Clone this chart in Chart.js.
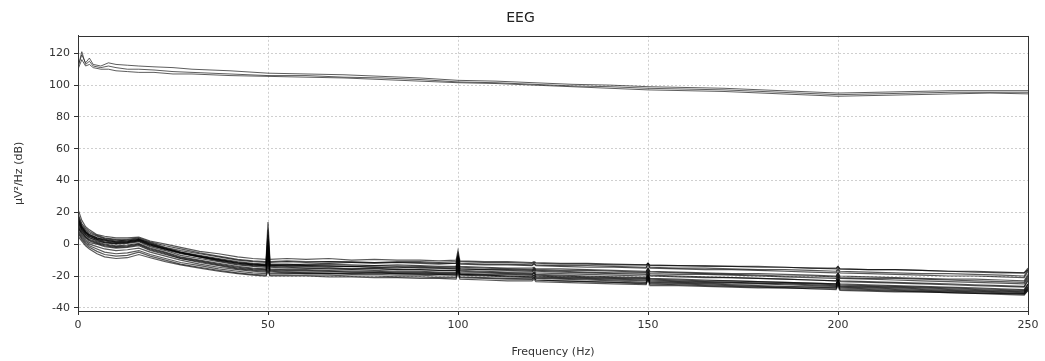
<!DOCTYPE html>
<html>
<head>
<meta charset="utf-8">
<script src="https://cdn.jsdelivr.net/npm/chart.js@4.4.1/dist/chart.umd.min.js"></script>
<style>
  body { margin: 0; background: #fff; }
  #wrap { width: 1045px; height: 361px; }
</style>
</head>
<body>
<div id="wrap"><canvas id="psd-chart" width="1045" height="361"></canvas></div>
<script>
// frequencies (Hz) for the upper group and lower group
const freqsUp = [0, 1, 2, 3, 4, 6, 8, 10, 13, 16, 20, 25, 30, 40, 50, 60, 70, 80, 90, 100, 110, 120, 130, 140, 150, 160, 170, 180, 190, 200, 210, 220, 230, 240, 250];
const freqsLow = [0, 1, 2, 3, 5, 7, 10, 13, 16, 19, 23, 27, 32, 37, 42, 46, 49.5, 50, 50.5, 55, 60, 66, 72, 78, 84, 90, 95, 99.5, 100, 100.5, 107, 113, 119.5, 120, 120.5, 127, 134, 141, 149.5, 150, 150.5, 158, 165, 172, 179, 186, 193, 199.5, 200, 200.5, 208, 215, 222, 229, 236, 243, 249, 250];

const yTicks = [-40, -20, 0, 20, 40, 60, 80, 100, 120];
const xTicks = [0, 50, 100, 150, 200, 250];

// PSD in dB, upper channels
const upCh1 = [112, 119, 114, 117, 113, 112, 114, 113, 112.5, 112, 111.5, 111, 110, 109, 107.5, 107, 106.5, 105.5, 104.5, 103, 102.5, 101.5, 100.5, 100, 99, 98.5, 98, 97, 96, 95, 95.5, 96, 96.5, 96.5, 96.5];
const upCh2 = [110, 116, 112, 113, 111, 110, 110, 109, 108.5, 108, 108, 107, 107, 106, 105.5, 105, 104.5, 103.5, 102.5, 101.5, 101, 100, 99, 98, 97, 96.5, 96, 95, 94, 93, 93.5, 94, 94.5, 95, 94.5];
const upCh3 = [111, 121, 113, 115, 112, 111, 112, 111, 110, 110, 109.5, 108.5, 108, 107, 106, 106, 105, 104.5, 103.5, 102, 101.5, 100.5, 99.5, 99, 98, 97.5, 97, 96, 95, 94, 94.5, 95, 95.5, 95.5, 95.5];

// PSD in dB, lower channels
const lowCh01 = [22, 15, 11, 9, 6, 5, 4, 4, 4.5, 2, 0, -2, -4.5, -6, -8, -9, -9.5, 14, -9.5, -9, -9.5, -9, -10, -9.5, -10, -10, -10.5, -10, -4, -10.5, -11, -11, -11.5, -11, -11.5, -12, -12, -12.5, -13, -12, -13, -13.5, -13.5, -14, -14, -14.5, -15, -15, -14, -15.5, -16, -16, -16.5, -17, -17.5, -18, -18, -15];
const lowCh02 = [18, 12, 9, 7, 5, 3.5, 2.5, 2, 3, 1, -2, -4, -6, -8, -10, -11, -11.5, 6, -11.5, -11, -11.5, -11, -11.5, -12, -11.5, -12, -12.5, -12, -6, -12.5, -13, -13, -13.5, -12.5, -13.5, -14, -14.5, -14.5, -15, -13, -15, -15.5, -16, -16, -16.5, -17, -17.5, -18, -16, -18, -18.5, -19, -19.5, -20, -20, -20.5, -21, -17];
const lowCh03 = [17, 11, 8, 6, 4, 3, 2, 2.5, 3.5, 0.5, -2.5, -5, -7, -9, -11, -12, -12.5, 2, -12.5, -12.5, -13, -12.5, -13, -13.5, -13, -13.5, -14, -14, -8, -14, -14.5, -15, -15, -14.5, -15.5, -15.5, -16, -16.5, -17, -15, -17, -17.5, -18, -18.5, -18.5, -19, -19.5, -20, -18, -20, -20.5, -21, -21.5, -22, -22, -22.5, -23, -19];
const lowCh04 = [15, 10, 7, 5, 3, 2, 1, 1.5, 2.5, -0.5, -3.5, -6, -8, -10, -12, -13, -13.5, 0, -13.5, -14, -14, -14.5, -14, -14.5, -15, -14.5, -15, -15, -9, -15.5, -16, -16, -16.5, -15.5, -16.5, -17, -17.5, -18, -18, -16, -18.5, -19, -19, -19.5, -20, -20.5, -21, -21.5, -19, -21.5, -22, -22.5, -23, -23.5, -24, -24.5, -25, -21];
const lowCh05 = [13, 9, 6, 4, 2.5, 1, 0, 0.5, 1.5, -1.5, -4, -7, -9, -11, -13, -14, -14.5, -3, -14.5, -15, -15, -15.5, -15.5, -15, -16, -16, -16.5, -16.5, -11, -16.5, -17, -17.5, -17.5, -16.5, -18, -18.5, -19, -19.5, -20, -17, -20, -20.5, -21, -21, -21.5, -22, -22.5, -23, -20, -23.5, -24, -24.5, -25, -25.5, -26, -26.5, -27, -23];
const lowCh06 = [12, 8, 5, 3, 1.5, 0, -1, -0.5, 0.5, -2.5, -5, -8, -10, -12, -14, -15, -15.5, -6, -15.5, -16, -16, -16.5, -16, -16.5, -17, -17, -17.5, -17.5, -13, -18, -18, -18.5, -19, -18, -19.5, -20, -20.5, -21, -21.5, -19, -22, -22.5, -23, -23, -23.5, -24, -24.5, -25, -22, -25.5, -26, -26.5, -27, -27.5, -28, -28.5, -29, -25];
const lowCh07 = [10, 7, 4, 2, 0.5, -1, -2, -1.5, -0.5, -3.5, -6, -9, -11, -13, -15, -16, -16.5, -9, -16.5, -17, -17, -17, -17.5, -17.5, -18, -18, -18.5, -18.5, -14, -19, -19.5, -20, -20.5, -19.5, -21, -21.5, -22, -22.5, -23, -20, -23.5, -24, -24.5, -25, -25, -25.5, -26, -26.5, -23, -27, -27.5, -28, -28.5, -29, -29.5, -30, -30.5, -27];
const lowCh08 = [11, 6, 3, 1, 0, -1.5, -2.5, -2, -1, -4, -6.5, -9, -11.5, -13.5, -15.5, -16.5, -17, -11, -17, -17.5, -18, -18, -18.5, -18, -18.5, -19, -19, -19.5, -15, -19.5, -20, -20.5, -21, -20.5, -21.5, -22, -22.5, -23, -24, -21, -24, -24.5, -25, -25.5, -26, -26.5, -27, -27, -24, -27.5, -28, -28.5, -29, -29.5, -30, -30.5, -31, -28];
const lowCh09 = [14, 9, 6, 4, 2, 1, 0.5, 1, 2, -1, -3, -5.5, -8, -10.5, -12.5, -13.5, -14, -4, -14, -14.5, -15, -15, -15.5, -15.5, -16, -16, -16.5, -16.5, -12, -17, -17.5, -18, -18.5, -17.5, -19, -19.5, -20, -20.5, -21, -18, -21.5, -22, -22.5, -23, -23.5, -24, -24.5, -25, -22, -25, -25.5, -26, -26.5, -27, -27.5, -28, -28.5, -25];
const lowCh10 = [16, 11, 8, 6, 4, 2.5, 1.5, 1.5, 2.5, 0, -2.5, -5, -7.5, -9.5, -11.5, -12.5, -13, -1, -13, -13.5, -13.5, -14, -14, -14.5, -14.5, -15, -15, -15.5, -10, -15.5, -16, -16.5, -17, -16, -17, -17.5, -18, -18.5, -19, -17, -19.5, -20, -20.5, -21, -21.5, -22, -22.5, -23, -20, -23, -23.5, -24, -24.5, -25, -25.5, -26, -26.5, -22];
const lowCh11 = [8, 4, 1, -1, -3, -5, -6, -5.5, -4, -6.5, -9, -11.5, -13.5, -15.5, -17, -18, -18.5, -14, -18.5, -18.5, -18, -18.5, -18, -18, -18.5, -18.5, -19, -19, -16, -19, -19.5, -20, -20, -19.5, -20.5, -21, -21.5, -22, -22.5, -20, -23, -23.5, -24, -24, -24.5, -25, -25.5, -26, -23, -26.5, -27, -27.5, -28, -28.5, -29, -29.5, -30, -27];
const lowCh12 = [5, 2, -1, -3, -6, -8, -9, -8.5, -6.5, -8.5, -11, -13, -15, -17, -18.5, -19.5, -20, -17, -20, -20, -20, -20.5, -20.5, -21, -21, -21.5, -21.5, -22, -18, -22, -22.5, -23, -23, -22, -23.5, -24, -24.5, -25, -25.5, -22, -26, -26, -26.5, -27, -27.5, -27.5, -28, -28.5, -26, -29, -29.5, -30, -30, -30.5, -31, -31.5, -32, -29];
const lowCh13 = [7, 3, 0, -2, -4.5, -6.5, -7.5, -7, -5, -7.5, -10, -12.5, -14.5, -16.5, -18, -19, -19.5, -16, -19.5, -19.5, -19.5, -19.5, -20, -20, -20.5, -20.5, -21, -21, -17, -21, -21.5, -22, -22, -21, -22.5, -23, -23.5, -24, -24.5, -21, -25, -25, -25.5, -26, -26.5, -27, -27, -27.5, -25, -28, -28.5, -29, -29.5, -30, -30.5, -31, -31, -28];
const lowCh14 = [14, 10, 7, 5, 3, 1.5, 0.5, 1, 2, -0.5, -3, -5.5, -8, -10, -12, -13, -13.5, -5, -13.5, -13, -12.5, -12, -11.5, -11.5, -11, -11, -11.5, -11, -8, -11, -11.5, -11.5, -12, -11.5, -12, -12.5, -12.5, -13, -13, -12, -13.5, -13.5, -14, -14, -14.5, -14.5, -15, -15.5, -14, -15.5, -16, -16, -16.5, -17, -17, -17.5, -18, -16];
const lowCh15 = [16, 10.5, 7.5, 5.5, 3.5, 2.5, 1.5, 2, 3, 0, -3, -5.5, -7.5, -9.5, -11.5, -12.5, -13, 3, -13, -13, -13.5, -13.5, -14, -13.5, -14, -14, -14.5, -14.5, -9, -14.5, -15, -15.5, -16, -15, -16, -16.5, -16.5, -17, -17.5, -15, -17.5, -18, -18.5, -19, -19.5, -20, -20, -20.5, -18, -21, -21.5, -21.5, -22, -22.5, -23, -23.5, -24, -20];
const lowCh16 = [11, 7.5, 4.5, 2.5, 1, -0.5, -1.5, -1, 0, -3, -5.5, -8.5, -10.5, -12.5, -14.5, -15.5, -16, -7, -16, -16.5, -16.5, -17, -17, -17, -17.5, -17.5, -18, -18, -13, -18.5, -19, -19, -19.5, -18, -20, -20.5, -21, -21.5, -22, -19, -22.5, -23, -23.5, -24, -24.5, -24.5, -25, -25.5, -22, -26, -26.5, -27, -27.5, -28, -28.5, -29, -29.5, -26];
const lowCh17 = [9, 5, 2, 0, -1.5, -3, -4, -3.5, -2.5, -5, -7.5, -10, -12.5, -14.5, -16, -17, -17.5, -12, -17.5, -18, -18.5, -18.5, -19, -19, -19.5, -19.5, -20, -20, -16, -20.5, -21, -21.5, -22, -21, -22.5, -23, -23.5, -24, -25, -22, -25, -25.5, -26, -26.5, -27, -27.5, -28, -28, -25, -28.5, -29, -29.5, -30, -30.5, -31, -31, -31.5, -29];
const lowCh18 = [19, 13, 10, 8, 5.5, 4, 3, 3, 4, 1.5, -1, -3, -5.5, -7.5, -9.5, -10.5, -11, 9, -11, -10.5, -11, -11, -11, -11.5, -11.5, -11.5, -12, -12, -7, -12, -12.5, -12.5, -13, -12, -13, -13.5, -13.5, -14, -14.5, -12, -14.5, -15, -15, -15.5, -16, -16, -16.5, -17, -15, -17, -17.5, -18, -18.5, -18.5, -19, -19.5, -20, -16];

const upChannels = [upCh1, upCh2, upCh3];
const lowChannels = [lowCh01, lowCh02, lowCh03, lowCh04, lowCh05, lowCh06, lowCh07, lowCh08, lowCh09, lowCh10, lowCh11, lowCh12, lowCh13, lowCh14, lowCh15, lowCh16, lowCh17, lowCh18];

function toPoints(freqs, vals) {
  return vals.map((v, i) => ({ x: freqs[i], y: v }));
}

let datasets = [];
for (let ch of upChannels) {
  datasets.push({ data: toPoints(freqsUp, ch), borderColor: "rgba(40,40,40,0.75)", borderWidth: 1, pointRadius: 0, tension: 0 });
}
for (let ch of lowChannels) {
  datasets.push({ data: toPoints(freqsLow, ch), borderColor: "rgba(0,0,0,0.65)", borderWidth: 1.2, pointRadius: 0, tension: 0 });
}

// matplotlib style box round the plot area
const boxPlugin = {
  id: "box",
  afterDraw(chart) {
    const { ctx, chartArea: a } = chart;
    ctx.save();
    ctx.strokeStyle = "#333";
    ctx.lineWidth = 1;
    ctx.strokeRect(Math.round(a.left) + 0.5, Math.round(a.top) + 0.5, Math.round(a.right - a.left), Math.round(a.bottom - a.top));
    ctx.restore();
  },
};

const font = { family: "DejaVu Sans", size: 11 };

new Chart(document.getElementById("psd-chart"), {
  type: "line",
  data: { datasets },
  plugins: [boxPlugin],
  options: {
    responsive: false,
    animation: false,
    layout: { padding: { left: 13, right: 17, top: 0, bottom: 0 } },
    plugins: {
      legend: { display: false },
      tooltip: { enabled: false },
      title: {
        display: true,
        text: "EEG",
        color: "#222",
        font: { family: "DejaVu Sans", size: 14, weight: "normal" },
        padding: { top: 10, bottom: 9 },
      },
    },
    scales: {
      x: {
        type: "linear",
        min: 0,
        max: 250,
        afterBuildTicks: (scale) => { scale.ticks = xTicks.map((v) => ({ value: v })); },
        afterFit: (scale) => { scale.height = 50; },
        ticks: { color: "#333", font, padding: 4, maxRotation: 0 },
        grid: { color: "#cfcfcf", tickColor: "#333", tickLength: 4 },
        border: { color: "#333", dash: [2, 2] },
        title: { display: true, text: "Frequency (Hz)", color: "#333", font, padding: { top: 0, bottom: 2 } },
      },
      y: {
        min: -42,
        max: 131,
        afterBuildTicks: (scale) => { scale.ticks = yTicks.map((v) => ({ value: v })); },
        afterFit: (scale) => { scale.width = 65; },
        ticks: { color: "#333", font, padding: 4 },
        grid: { color: "#cfcfcf", tickColor: "#333", tickLength: 4 },
        border: { color: "#333", dash: [2, 2] },
        title: { display: true, text: "µV²/Hz (dB)", color: "#333", font, padding: { top: 0, bottom: 0 } },
      },
    },
  },
});
</script>
</body>
</html>
